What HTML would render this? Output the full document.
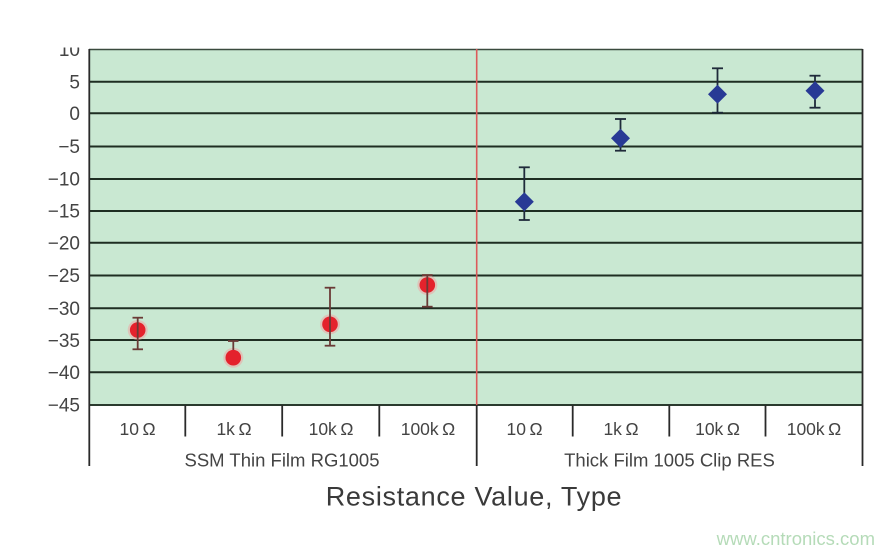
<!DOCTYPE html>
<html><head><meta charset="utf-8"><style>
html,body{margin:0;padding:0;background:#fff;}
svg{display:block;}
text{font-family:"Liberation Sans",Arial,sans-serif;}
</style></head><body>
<svg width="895" height="554" viewBox="0 0 895 554" xmlns="http://www.w3.org/2000/svg">
<rect width="895" height="554" fill="#fff"/>
<rect x="89" y="49" width="773.5" height="356" fill="#c9e8d2"/>
<g stroke="#1e2e22" stroke-width="2">
<line x1="89" x2="862.5" y1="81.7" y2="81.7"/>
<line x1="89" x2="862.5" y1="113.3" y2="113.3"/>
<line x1="89" x2="862.5" y1="146.5" y2="146.5"/>
<line x1="89" x2="862.5" y1="179" y2="179"/>
<line x1="89" x2="862.5" y1="211" y2="211"/>
<line x1="89" x2="862.5" y1="242.7" y2="242.7"/>
<line x1="89" x2="862.5" y1="275.5" y2="275.5"/>
<line x1="89" x2="862.5" y1="308.3" y2="308.3"/>
<line x1="89" x2="862.5" y1="340" y2="340"/>
<line x1="89" x2="862.5" y1="372.3" y2="372.3"/>
</g>
<line x1="89" x2="862.5" y1="49.5" y2="49.5" stroke="#3a4a3e" stroke-width="1.6"/>
<line x1="89" x2="862.5" y1="405" y2="405" stroke="#2a3a2e" stroke-width="2"/>
<line x1="862.5" x2="862.5" y1="49" y2="466" stroke="#2a2a2a" stroke-width="1.8"/>
<line x1="89.3" x2="89.3" y1="49" y2="466" stroke="#2a2a2a" stroke-width="1.8"/>
<line x1="476.7" x2="476.7" y1="49" y2="405" stroke="#dc5a5a" stroke-width="1.6"/>
<line x1="476.7" x2="476.7" y1="405" y2="466" stroke="#2a2a2a" stroke-width="1.8"/>
<g stroke="#2a2a2a" stroke-width="1.8">
<line x1="185.3" x2="185.3" y1="405" y2="436.5"/>
<line x1="282.2" x2="282.2" y1="405" y2="436.5"/>
<line x1="379.3" x2="379.3" y1="405" y2="436.5"/>
<line x1="572.7" x2="572.7" y1="405" y2="436.5"/>
<line x1="669.3" x2="669.3" y1="405" y2="436.5"/>
<line x1="765.5" x2="765.5" y1="405" y2="436.5"/>
</g>
<g fill="#444" font-size="19" text-anchor="end">
<text x="80" y="56">10</text>
<text x="80" y="88.5">5</text>
<text x="80" y="120">0</text>
<text x="80" y="153">−5</text>
<text x="80" y="185.5">−10</text>
<text x="80" y="217.5">−15</text>
<text x="80" y="249.5">−20</text>
<text x="80" y="282">−25</text>
<text x="80" y="315">−30</text>
<text x="80" y="347">−35</text>
<text x="80" y="379">−40</text>
<text x="80" y="411.5">−45</text>
</g>
<rect x="0" y="0" width="88" height="47.5" fill="#fff"/>
<g fill="#444" font-size="17.5" text-anchor="middle">
<text x="137.5" y="435">10&#8201;Ω</text>
<text x="234" y="435">1k&#8201;Ω</text>
<text x="331" y="435">10k&#8201;Ω</text>
<text x="428" y="435">100k&#8201;Ω</text>
<text x="524.5" y="435">10&#8201;Ω</text>
<text x="621" y="435">1k&#8201;Ω</text>
<text x="717.5" y="435">10k&#8201;Ω</text>
<text x="814" y="435">100k&#8201;Ω</text>
</g>
<g fill="#444" font-size="18.5" text-anchor="middle">
<text x="282" y="466.5">SSM Thin Film RG1005</text>
<text x="669.5" y="466.5">Thick Film 1005 Clip RES</text>
</g>
<text x="474" y="505.5" fill="#3a3a3a" font-size="27" letter-spacing="0.7" text-anchor="middle">Resistance Value, Type</text>
<text x="875" y="545" fill="#b5dbb8" font-size="18.5" text-anchor="end">www.cntronics.com</text>
<g fill="#e4222c">
<circle cx="137.7" cy="330" r="10" fill="#f1a0a0" opacity="0.5"/><circle cx="137.7" cy="330" r="7.8"/>
<circle cx="233.3" cy="357.7" r="10" fill="#f1a0a0" opacity="0.5"/><circle cx="233.3" cy="357.7" r="7.8"/>
<circle cx="330" cy="324.3" r="10" fill="#f1a0a0" opacity="0.5"/><circle cx="330" cy="324.3" r="7.8"/>
<circle cx="427.3" cy="285" r="10" fill="#f1a0a0" opacity="0.5"/><circle cx="427.3" cy="285" r="7.8"/>
</g>
<g stroke="#6a3a36" stroke-width="1.8">
<line x1="137.7" x2="137.7" y1="317.7" y2="349.3"/><line x1="132.5" x2="143" y1="317.7" y2="317.7"/><line x1="132.5" x2="143" y1="349.3" y2="349.3"/>
<line x1="233.3" x2="233.3" y1="341" y2="350"/><line x1="228" x2="238.5" y1="341" y2="341"/>
<line x1="330" x2="330" y1="287.7" y2="345.7"/><line x1="324.7" x2="335.3" y1="287.7" y2="287.7"/><line x1="324.7" x2="335.3" y1="345.7" y2="345.7"/>
<line x1="427.3" x2="427.3" y1="275" y2="306.7"/><line x1="422" x2="432.6" y1="275" y2="275"/><line x1="422" x2="432.6" y1="306.7" y2="306.7"/>
</g>
<g stroke="#1f2a3a" stroke-width="1.8">
<line x1="524.3" x2="524.3" y1="167.3" y2="220"/><line x1="518.8" x2="529.8" y1="167.3" y2="167.3"/><line x1="518.8" x2="529.8" y1="220" y2="220"/>
<line x1="620.5" x2="620.5" y1="119" y2="150.7"/><line x1="615" x2="626" y1="119" y2="119"/><line x1="615" x2="626" y1="150.7" y2="150.7"/>
<line x1="717.5" x2="717.5" y1="68.3" y2="112.7"/><line x1="712" x2="723" y1="68.3" y2="68.3"/><line x1="712" x2="723" y1="112.7" y2="112.7"/>
<line x1="815" x2="815" y1="75.7" y2="107.7"/><line x1="809.5" x2="820.5" y1="75.7" y2="75.7"/><line x1="809.5" x2="820.5" y1="107.7" y2="107.7"/>
</g>
<g fill="#283a95">
<polygon points="524.3,192.2 533.8,201.7 524.3,211.2 514.8,201.7"/>
<polygon points="620.5,128.8 630,138.3 620.5,147.8 611,138.3"/>
<polygon points="717.5,84.8 727,94.3 717.5,103.8 708,94.3"/>
<polygon points="815,81.2 824.5,90.7 815,100.2 805.5,90.7"/>
</g>
</svg>
</body></html>
